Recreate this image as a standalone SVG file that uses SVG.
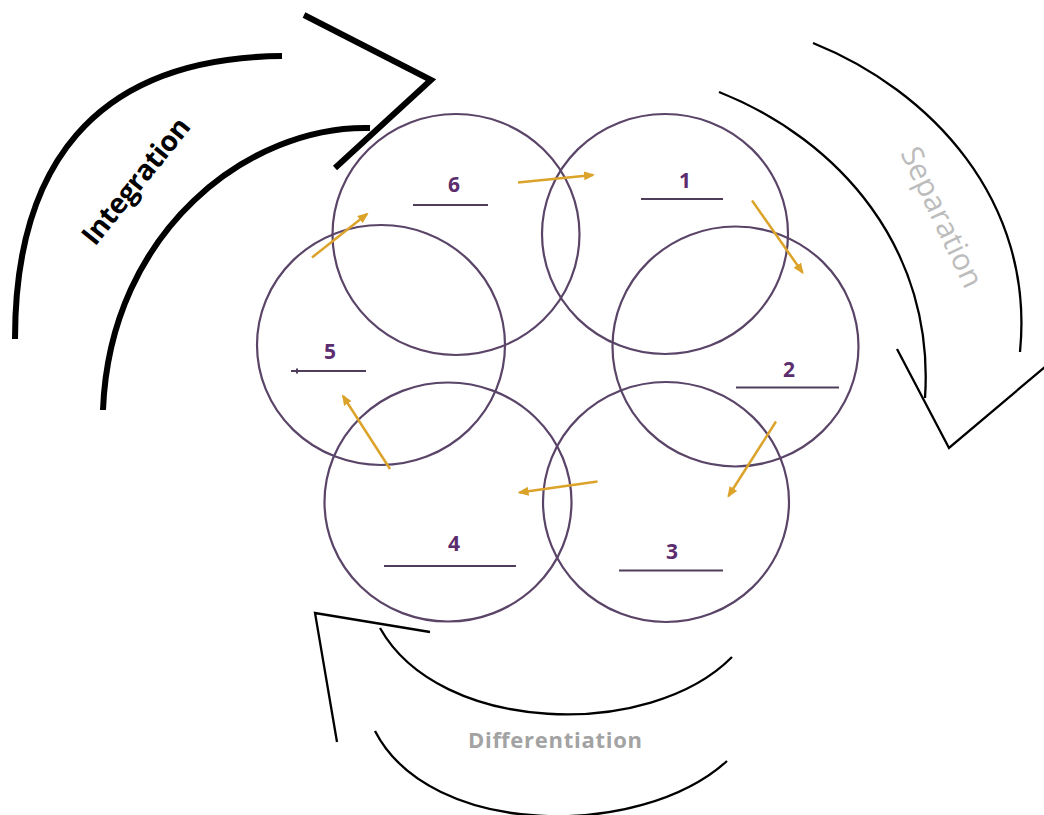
<svg xmlns="http://www.w3.org/2000/svg" width="1044" height="815" viewBox="0 0 1044 815">
<style>
.ring{fill:none;stroke:#5a4468;stroke-width:2.2}
.num{font-family:"Open Sans","Liberation Sans",sans-serif;font-weight:bold;font-size:21px;fill:#5c2d6e;text-anchor:middle}
.ul{stroke:#4e3e5c;stroke-width:2}
.flow{stroke:#dca32a;stroke-width:2.5;fill:none;marker-end:url(#ah)}
.thick{fill:none;stroke:#000;stroke-width:6;stroke-linejoin:miter}
.thin{fill:none;stroke:#000;stroke-width:2.3;stroke-linejoin:miter}
</style>
<defs>
<marker id="ah" markerUnits="userSpaceOnUse" markerWidth="11" markerHeight="9" refX="9" refY="4.5" orient="auto">
<path d="M0,0 L11,4.5 L0,9 z" fill="#dca32a"/>
</marker>
</defs>
<rect width="1044" height="815" fill="#fff"/>

<g id="integration">
<path class="thick" d="M282,56 C90,58 15,170 15,339"/>
<path class="thick" d="M370,128 C250,125 110,230 103,410"/>
<polyline class="thick" points="304,15 431,80 335,168"/>
<text transform="translate(95,247) rotate(-51)" font-family="'Open Sans','Liberation Sans',sans-serif" font-weight="bold" font-size="28" fill="#000" textLength="154">Integration</text>
</g>

<g id="separation">
<path class="thin" d="M813,43 C930,90 1035,200 1020,352"/>
<path class="thin" d="M719,92 C840,140 935,250 925,398"/>
<polyline class="thin" points="897,349 949,448 1046,366"/>
<text transform="translate(900,153) rotate(64.5)" font-family="'Open Sans','Liberation Sans',sans-serif" font-size="30" fill="#bcbcbc" textLength="152">Separation</text>
</g>

<g id="differentiation">
<path class="thin" d="M380,628 C440,735 650,740 732,657"/>
<path class="thin" d="M375,731 C430,838 640,840 727,761"/>
<polyline class="thin" points="430,632 315,613 337,742"/>
<text x="468" y="748" font-family="'Open Sans','Liberation Sans',sans-serif" font-weight="bold" font-size="22" fill="#a3a3a3" textLength="174">Differentiation</text>
</g>

<g id="node6">
<ellipse class="ring" cx="456" cy="234.5" rx="123.5" ry="120.5"/>
<text class="num" x="454" y="192">6</text>
<line class="ul" x1="413" y1="205" x2="488" y2="205"/>
</g>
<g id="node1">
<ellipse class="ring" cx="665" cy="234" rx="123" ry="120"/>
<text class="num" x="685" y="188">1</text>
<line class="ul" x1="641" y1="199" x2="723" y2="199"/>
</g>
<g id="node2">
<ellipse class="ring" cx="735.5" cy="346.5" rx="123" ry="120"/>
<text class="num" x="789" y="377">2</text>
<line class="ul" x1="736" y1="387.5" x2="839" y2="387.5"/>
</g>
<g id="node3">
<ellipse class="ring" cx="666" cy="502" rx="123" ry="120"/>
<text class="num" x="672" y="559">3</text>
<line class="ul" x1="619" y1="570.5" x2="723" y2="570.5"/>
</g>
<g id="node4">
<ellipse class="ring" cx="448" cy="502" rx="123.5" ry="119.5"/>
<text class="num" x="454" y="551">4</text>
<line class="ul" x1="384" y1="566" x2="516" y2="566"/>
</g>
<g id="node5">
<ellipse class="ring" cx="381" cy="345" rx="124" ry="120"/>
<text class="num" x="330" y="359">5</text>
<line class="ul" x1="291" y1="371" x2="366" y2="371"/>
<line class="ul" x1="297" y1="368.5" x2="297" y2="373.5" stroke-width="1.2"/>
</g>

<g id="connectors">
<line class="flow" x1="518" y1="182.5" x2="593" y2="175"/>
<line class="flow" x1="752" y1="200.5" x2="802.5" y2="272.5"/>
<line class="flow" x1="776" y1="421.5" x2="728.5" y2="496"/>
<line class="flow" x1="597.5" y1="481.5" x2="519.5" y2="492.5"/>
<line class="flow" x1="390" y1="469" x2="343" y2="396"/>
<line class="flow" x1="312" y1="257.5" x2="367" y2="214"/>
</g>
</svg>
